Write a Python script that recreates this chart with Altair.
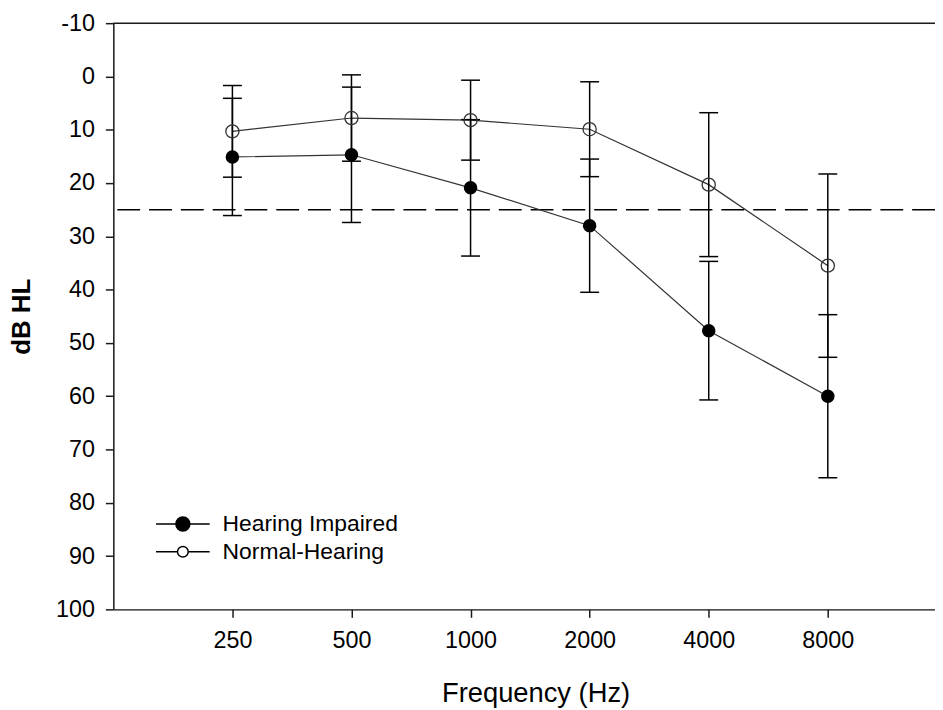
import altair as alt
import pandas as pd

# ---- data ----
freqs = [250, 500, 1000, 2000, 4000, 8000]
hi_mean = [15.1, 14.7, 20.9, 28.0, 47.7, 60.0]
hi_sd = [11.0, 12.7, 12.8, 12.5, 13.0, 15.3]
nh_mean = [10.3, 7.8, 8.2, 9.9, 20.3, 35.5]
nh_sd = [8.6, 8.1, 7.5, 8.9, 13.5, 17.2]
series_names = ["Hearing Impaired", "Normal-Hearing"]
y_ticks = list(range(-10, 101, 10))
cutoff = [25]
top_line = [-10]

rows = []
for name, means, sds in [(series_names[0], hi_mean, hi_sd),
                         (series_names[1], nh_mean, nh_sd)]:
    for f, m, s in zip(freqs, means, sds):
        rows.append({"series": name, "freq": f, "db": m, "lo": m - s, "hi": m + s})
df = pd.DataFrame(rows)

FONT = "Liberation Sans"
INK = "#1a1a1a"

xscale = alt.Scale(type="log", base=2, domain=[125, 14930], nice=False)
yscale = alt.Scale(domain=[-10, 100], reverse=True, nice=False, zero=False)

x_axis = alt.Axis(values=freqs, labelExpr="toString(datum.value)",
                  title="Frequency (Hz)",
                  titleFont=FONT, titleFontSize=27.5, titleFontWeight="normal",
                  titleColor="black", titleX=425, titleY=93,
                  titleBaseline="alphabetic", titleAlign="center",
                  labelFont=FONT, labelFontSize=23.5, labelColor="black",
                  labelPadding=11, labelFlush=False, labelOverlap=False,
                  tickSize=8, tickWidth=1.5, tickColor=INK,
                  domainColor=INK, domainWidth=1.5, grid=False)
y_axis = alt.Axis(values=y_ticks, labelExpr="toString(datum.value)",
                  title="dB HL",
                  titleFont=FONT, titleFontSize=26, titleFontWeight="bold",
                  titleColor="black", titleX=-92, titleBaseline="middle",
                  titleAlign="center",
                  labelFont=FONT, labelFontSize=23.5, labelColor="black",
                  labelPadding=11, labelFlush=False, labelOverlap=False,
                  tickSize=8, tickWidth=1.5, tickColor=INK,
                  domainColor=INK, domainWidth=1.5, grid=False)

X = alt.X("freq:Q", scale=xscale, axis=x_axis)
base = alt.Chart(df)

lines = base.mark_line(color="#333333", strokeWidth=1.2).encode(
    x=X, y=alt.Y("db:Q", scale=yscale, axis=y_axis), detail="series:N")

bars = base.mark_rule(color="black", strokeWidth=1.5).encode(
    x=X, y=alt.Y("lo:Q", scale=yscale), y2="hi:Q")
cap_lo = base.mark_tick(orient="horizontal", size=19, thickness=1.5,
                        color="black", opacity=1).encode(
    x=X, y=alt.Y("lo:Q", scale=yscale))
cap_hi = base.mark_tick(orient="horizontal", size=19, thickness=1.5,
                        color="black", opacity=1).encode(
    x=X, y=alt.Y("hi:Q", scale=yscale))

pts_hi = base.transform_filter(alt.datum.series == series_names[0]).mark_point(
    shape="circle", filled=True, size=185, color="black", opacity=1).encode(
    x=X, y=alt.Y("db:Q", scale=yscale))
pts_nh = base.transform_filter(alt.datum.series == series_names[1]).mark_point(
    shape="circle", filled=False, size=175, stroke="#333333", strokeWidth=1.3,
    opacity=1).encode(
    x=X, y=alt.Y("db:Q", scale=yscale))

dash = alt.Chart(pd.DataFrame({"v": cutoff})).mark_rule(
    color="black", strokeWidth=1.5, strokeDash=[23, 9]).encode(
    y=alt.Y("v:Q", scale=yscale))
top = alt.Chart(pd.DataFrame({"v": top_line})).mark_rule(
    color=INK, strokeWidth=1.5).encode(y=alt.Y("v:Q", scale=yscale))

# legend symbols: line with a circle in the middle
path_hi = "M-1,0L-0.26,0M0.26,0L1,0M0.26,0A0.26,0.26,0,1,1,-0.26,0A0.26,0.26,0,1,1,0.26,0Z"
path_nh = "M-1,0L-0.2,0M0.2,0L1,0M0.2,0A0.2,0.2,0,1,1,-0.2,0A0.2,0.2,0,1,1,0.2,0Z"
leg = alt.Legend(title=None, orient="none", legendX=42, legendY=490,
                 labelFont=FONT, labelFontSize=23, labelColor="black",
                 labelLimit=400,
                 symbolSize=2916, symbolStrokeWidth=1.5,
                 symbolOpacity=1, clipHeight=28, rowPadding=0, padding=0,
                 labelOffset=12, symbolOffset=0)
legend_layer = base.transform_filter("datum.freq < 0").mark_point(
    size=2916, opacity=1, strokeWidth=1.5).encode(
    shape=alt.Shape("series:N", scale=alt.Scale(domain=series_names,
                                                 range=[path_hi, path_nh]),
                    legend=leg),
    fill=alt.Fill("series:N", scale=alt.Scale(domain=series_names,
                                               range=["black", "white"]),
                  legend=leg),
    stroke=alt.Stroke("series:N", scale=alt.Scale(domain=series_names,
                                                   range=["black", "black"]),
                      legend=leg))

chart = alt.layer(dash, top, lines, bars, cap_lo, cap_hi, pts_hi, pts_nh,
                  legend_layer).properties(
    width=827, height=590,
    autosize=alt.AutoSizeParams(type="none"),
    padding={"left": 106, "top": 13, "right": 0, "bottom": 98},
).configure_view(strokeWidth=0).configure(background="white")

chart.save("out.html", embed_options={"renderer": "svg", "actions": False})
